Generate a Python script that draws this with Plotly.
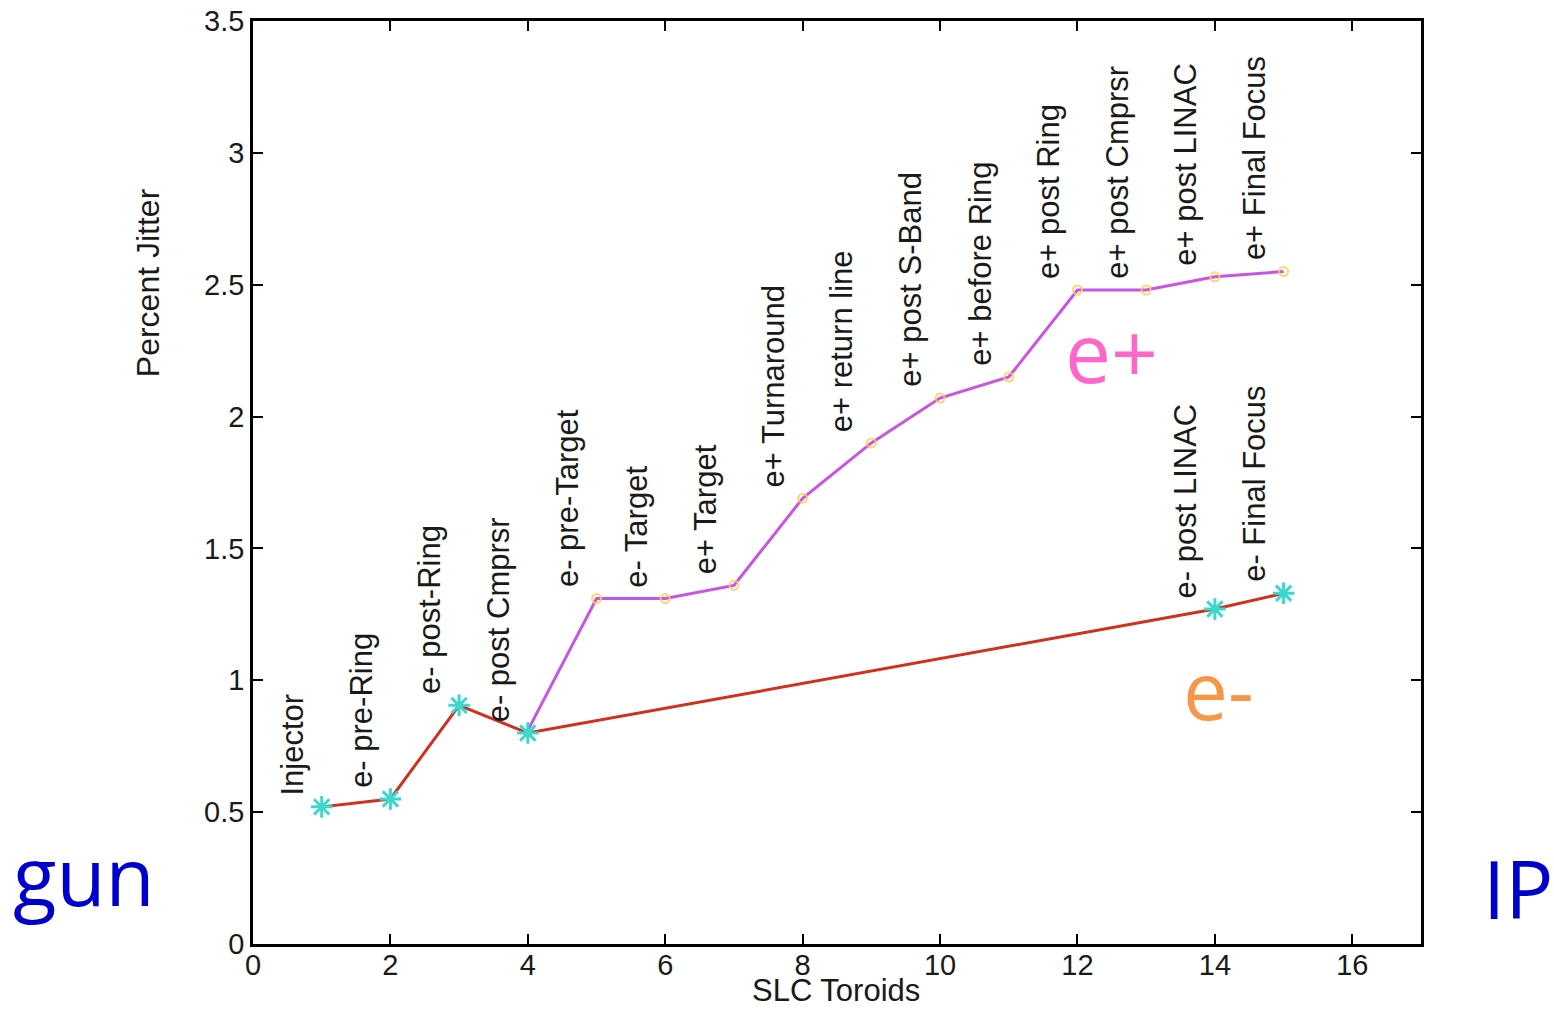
import plotly.graph_objects as go

# ---- data ----
x_eminus = [1, 2, 3, 4, 14, 15]
y_eminus = [0.52, 0.55, 0.905, 0.80, 1.27, 1.33]
labels_eminus = ["Injector", "e- pre-Ring", "e- post-Ring", "e- post Cmprsr",
                 "e- post LINAC", "e- Final Focus"]

x_eplus = [4, 5, 6, 7, 8, 9, 10, 11, 12, 13, 14, 15]
y_eplus = [0.81, 1.31, 1.31, 1.36, 1.69, 1.90, 2.07, 2.15, 2.48, 2.48, 2.53, 2.55]
labels_eplus = ["", "e- pre-Target", "e- Target", "e+ Target", "e+ Turnaround",
                "e+ return line", "e+ post S-Band", "e+ before Ring", "e+ post Ring",
                "e+ post Cmprsr", "e+ post LINAC", "e+ Final Focus"]

x_ticks = [0, 2, 4, 6, 8, 10, 12, 14, 16]
y_ticks = [0, 0.5, 1, 1.5, 2, 2.5, 3, 3.5]

FONT = "Liberation Sans"
TXT = "#1a1a1a"

fig = go.Figure()
fig.add_trace(go.Scatter(x=x_eplus, y=y_eplus, mode="lines",
                         line=dict(color="#C855E2", width=3), showlegend=False))
fig.add_trace(go.Scatter(x=x_eplus[1:], y=y_eplus[1:], mode="markers",
                         marker=dict(symbol="circle-open", size=9, color="rgba(255,205,90,0.85)",
                                     line=dict(color="rgba(255,205,90,0.85)", width=2)),
                         showlegend=False))
fig.add_trace(go.Scatter(x=x_eminus, y=y_eminus, mode="lines",
                         line=dict(color="#D0301E", width=3), showlegend=False))
fig.add_trace(go.Scatter(x=x_eminus, y=y_eminus, mode="markers",
                         marker=dict(symbol="asterisk-open", size=18, color="#3CD8CC",
                                     line=dict(color="#3CD8CC", width=3)),
                         showlegend=False))

annotations = []
for xs, ys, labs in [(x_eminus, y_eminus, labels_eminus), (x_eplus, y_eplus, labels_eplus)]:
    for xv, yv, lab in zip(xs, ys, labs):
        if not lab:
            continue
        annotations.append(dict(x=xv, y=yv, xref="x", yref="y", text=lab,
                                textangle=-90, showarrow=False,
                                xanchor="center", yanchor="bottom",
                                xshift=-29, yshift=9,
                                font=dict(family=FONT, size=31, color=TXT)))

# axis titles (placed explicitly)
annotations += [
    dict(x=-0.0899, y=0.717, xref="paper", yref="paper", text="Percent Jitter",
         textangle=-90, showarrow=False, xanchor="center", yanchor="middle",
         font=dict(family=FONT, size=32, color=TXT)),
    dict(x=0.499, y=-0.0505, xref="paper", yref="paper", text="SLC Toroids",
         showarrow=False, xanchor="center", yanchor="middle",
         font=dict(family=FONT, size=31, color=TXT)),
]

# decorative side labels
annotations += [
    dict(x=-0.145, y=0.075, xref="paper", yref="paper", text="gun", showarrow=False,
         xanchor="center", yanchor="middle",
         font=dict(family="Open Sans", size=80, color="#0000CC")),
    dict(x=1.083, y=0.061, xref="paper", yref="paper", text="IP", showarrow=False,
         xanchor="center", yanchor="middle",
         font=dict(family="Open Sans", size=80, color="#0000CC")),
    dict(x=12.5, y=2.25, xref="x", yref="y", text="e+", showarrow=False,
         xanchor="center", yanchor="middle",
         font=dict(family="Open Sans", size=82, color="#FF66CC")),
    dict(x=14.05, y=0.97, xref="x", yref="y", text="e-", showarrow=False,
         xanchor="center", yanchor="middle",
         font=dict(family="Open Sans", size=80, color="#F79646")),
]

axis_common = dict(showline=True, linecolor="black", linewidth=2.5, mirror="ticks",
                   ticks="inside", ticklen=10, tickwidth=2, tickcolor="black",
                   showgrid=False, zeroline=False, automargin=False,
                   tickfont=dict(family=FONT, size=29, color=TXT))

fig.update_layout(
    width=1554, height=1010,
    margin=dict(l=253, r=133, t=21, b=66),
    plot_bgcolor="white", paper_bgcolor="white",
    xaxis=dict(range=[0, 17], tickvals=x_ticks, ticktext=[str(v) for v in x_ticks],
               ticklabelstandoff=-7, **axis_common),
    yaxis=dict(range=[0, 3.5], tickvals=y_ticks, ticktext=[f"{v:g}" for v in y_ticks],
               **axis_common),
    annotations=annotations,
)

fig.write_html("out.html")
